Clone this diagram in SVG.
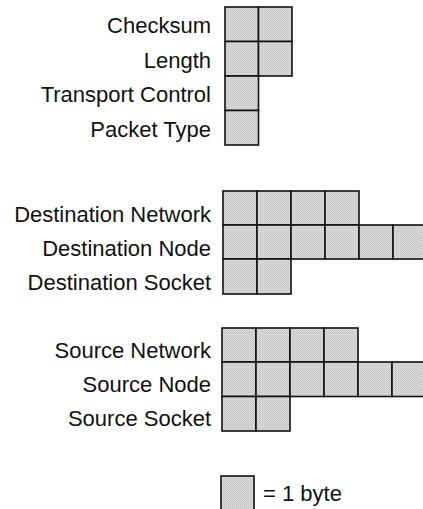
<svg xmlns="http://www.w3.org/2000/svg" width="423" height="509" viewBox="0 0 423 509">
<style>
text{font-family:"Liberation Sans",Arial,Helvetica,sans-serif;font-size:22px;fill:#111}
.l{text-anchor:end}
.c{fill:url(#dots);stroke:#111;stroke-width:1.6}
</style>
<defs>
<pattern id="dots" width="2" height="2" patternUnits="userSpaceOnUse">
<rect width="2" height="2" fill="#dcdcdc"/>
<rect width="1" height="1" fill="#c4c4c4"/>
<rect x="1" y="1" width="1" height="1" fill="#cacaca"/>
</pattern>
</defs>
<rect width="423" height="509" fill="#fff"/>
<g id="checksum">
<text class="l" x="211" y="33">Checksum</text>
<rect class="c" x="225" y="7" width="33.5" height="34.5"/>
<rect class="c" x="258.5" y="7" width="33.5" height="34.5"/>
</g>
<g id="length">
<text class="l" x="211" y="67.5">Length</text>
<rect class="c" x="225" y="41.5" width="33.5" height="34.5"/>
<rect class="c" x="258.5" y="41.5" width="33.5" height="34.5"/>
</g>
<g id="transport-control">
<text class="l" x="211" y="102">Transport Control</text>
<rect class="c" x="225" y="76" width="33.5" height="34.5"/>
</g>
<g id="packet-type">
<text class="l" x="211" y="137">Packet Type</text>
<rect class="c" x="225" y="110.5" width="33.5" height="34.5"/>
</g>
<g id="destination-network">
<text class="l" x="211" y="222">Destination Network</text>
<rect class="c" x="223" y="191" width="34" height="34"/>
<rect class="c" x="257" y="191" width="34" height="34"/>
<rect class="c" x="291" y="191" width="34" height="34"/>
<rect class="c" x="325" y="191" width="34" height="34"/>
</g>
<g id="destination-node">
<text class="l" x="211" y="256">Destination Node</text>
<rect class="c" x="223" y="225" width="34" height="34"/>
<rect class="c" x="257" y="225" width="34" height="34"/>
<rect class="c" x="291" y="225" width="34" height="34"/>
<rect class="c" x="325" y="225" width="34" height="34"/>
<rect class="c" x="359" y="225" width="34" height="34"/>
<rect class="c" x="393" y="225" width="34" height="34"/>
</g>
<g id="destination-socket">
<text class="l" x="211" y="290">Destination Socket</text>
<rect class="c" x="223" y="259" width="34" height="35"/>
<rect class="c" x="257" y="259" width="34" height="35"/>
</g>
<g id="source-network">
<text class="l" x="211" y="358">Source Network</text>
<rect class="c" x="222" y="328" width="34" height="34"/>
<rect class="c" x="256" y="328" width="34" height="34"/>
<rect class="c" x="290" y="328" width="34" height="34"/>
<rect class="c" x="324" y="328" width="34" height="34"/>
</g>
<g id="source-node">
<text class="l" x="211" y="392">Source Node</text>
<rect class="c" x="222" y="362" width="34" height="34.5"/>
<rect class="c" x="256" y="362" width="34" height="34.5"/>
<rect class="c" x="290" y="362" width="34" height="34.5"/>
<rect class="c" x="324" y="362" width="34" height="34.5"/>
<rect class="c" x="358" y="362" width="34" height="34.5"/>
<rect class="c" x="392" y="362" width="34" height="34.5"/>
</g>
<g id="source-socket">
<text class="l" x="211" y="426">Source Socket</text>
<rect class="c" x="222" y="396.5" width="34" height="34.5"/>
<rect class="c" x="256" y="396.5" width="34" height="34.5"/>
</g>
<g id="legend">
<rect class="c" x="221" y="476" width="33" height="34"/>
<text x="263" y="501">= 1 byte</text>
</g>
<g id="connectors"/>
</svg>
